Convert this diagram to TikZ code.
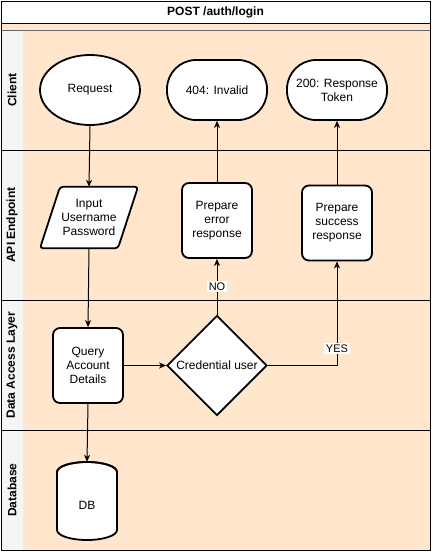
\documentclass[tikz,border=0pt]{standalone}
\usepackage{fontspec}
\setmainfont{Liberation Sans}
\usetikzlibrary{shapes.geometric,arrows.meta}
\definecolor{peach}{HTML}{FFE6CC}
\definecolor{hdrgray}{HTML}{F5F5F5}
\definecolor{lanegray}{HTML}{666666}
\begin{document}
\begin{tikzpicture}[x=1pt,y=-1pt,
  txt/.style={font=\fontsize{12}{14}\selectfont, align=center, inner sep=0pt},
  lanelabel/.style={font=\fontsize{12}{14}\selectfont\bfseries, rotate=90, inner sep=0pt},
  shapebox/.style={txt, draw=black, line width=1.8pt, fill=white},
  roundbox/.style={shapebox, rectangle, rounded corners=7pt, minimum width=70pt, minimum height=75pt},
  termbox/.style={shapebox, rectangle, rounded corners=29pt, minimum width=100pt, minimum height=60pt},
  conn/.style={draw=black, line width=1pt, -{Stealth[length=7pt,width=6pt,inset=2pt]}},
  edgelabel/.style={font=\fontsize{11}{13}\selectfont, fill=white, inner sep=1.5pt}
]
\useasboundingbox (0,0) rectangle (432,552);
\fill[white] (0,0) rectangle (432,552);
% pool background
\fill[peach] (1,23) rectangle (430,550);
\fill[hdrgray] (1,30) rectangle (23,550);
\fill[white] (1,1) rectangle (430,23);
\draw[black, line width=1pt] (1,23) -- (430,23);
\draw[lanegray, line width=1pt] (1,30) -- (430,30);
\draw[black, line width=1pt] (1,150) -- (430,150);
\draw[black, line width=1pt] (1,300) -- (430,300);
\draw[black, line width=1pt] (1,430) -- (430,430);
\draw[black, line width=1pt] (1,1) rectangle (430,550);
\node[txt, font=\fontsize{12}{14}\selectfont\bfseries] (title) at (215.5,12) {POST /auth/login};
% lane labels
\node[lanelabel] (lclient) at (12,90) {Client};
\node[lanelabel] (lapi) at (12,225) {API Endpoint};
\node[lanelabel] (ldal) at (12,365) {Data Access Layer};
\node[lanelabel] (ldb) at (12,490) {Database};
% client lane
\node[shapebox, ellipse, minimum width=100pt, minimum height=70pt] (req) at (90,90) {Request};
\node[termbox] (inv) at (217,90) {404: Invalid};
\node[termbox] (tok) at (337,90) {200: Response\\Token};
% API lane
\node[txt, minimum width=78pt, minimum height=61pt] (inp) at (89,217.5) {};
\draw[line width=1.8pt, fill=white, rounded corners=3pt]
  ([xshift=-29pt]inp.north) -- ([xshift=49pt]inp.north) -- ([xshift=29pt]inp.south)
  -- ([xshift=-49pt]inp.south) -- cycle;
\node[txt] (inptext) at (inp.center) {Input\\Username\\Password};
\node[roundbox] (err) at (217,220.5) {Prepare\\error\\response};
\node[roundbox] (suc) at (337,223) {Prepare\\success\\response};
% data access lane
\node[roundbox] (qry) at (88,365.5) {Query\\Account\\Details};
\node[shapebox, diamond, minimum width=100pt, minimum height=100pt, aspect=1,
  label={[txt]center:Credential user}] (dia) at (217,365.5) {};
% database lane
\node[txt, minimum width=60pt, minimum height=78pt] (db) at (87,501) {};
\draw[line width=1.8pt, fill=white]
  (57,472) -- (57,530) arc[start angle=180, end angle=360, x radius=30pt, y radius=10pt]
  -- (117,472) arc[start angle=0, end angle=180, x radius=30pt, y radius=10pt] -- cycle;
\draw[line width=1.8pt]
  (57,472) arc[start angle=180, end angle=360, x radius=30pt, y radius=-10pt];
\node[txt] (dbtext) at (87,505) {DB};
% connectors
\draw[conn] (req.south) -- (inp.north);
\draw[conn] (inp.south) -- (qry.north);
\draw[conn] (qry.south) -- (db.north);
\draw[conn] (qry.east) -- (dia.west);
\draw[conn] (dia.north) -- node[edgelabel, pos=0.5] (nolab) {NO} (err.south);
\draw[conn] (dia.east) -| node[edgelabel, pos=0.58] (yeslab) {YES} (suc.south);
\draw[conn] (err.north) -- (inv.south);
\draw[conn] (suc.north) -- (tok.south);
\end{tikzpicture}
\end{document}
